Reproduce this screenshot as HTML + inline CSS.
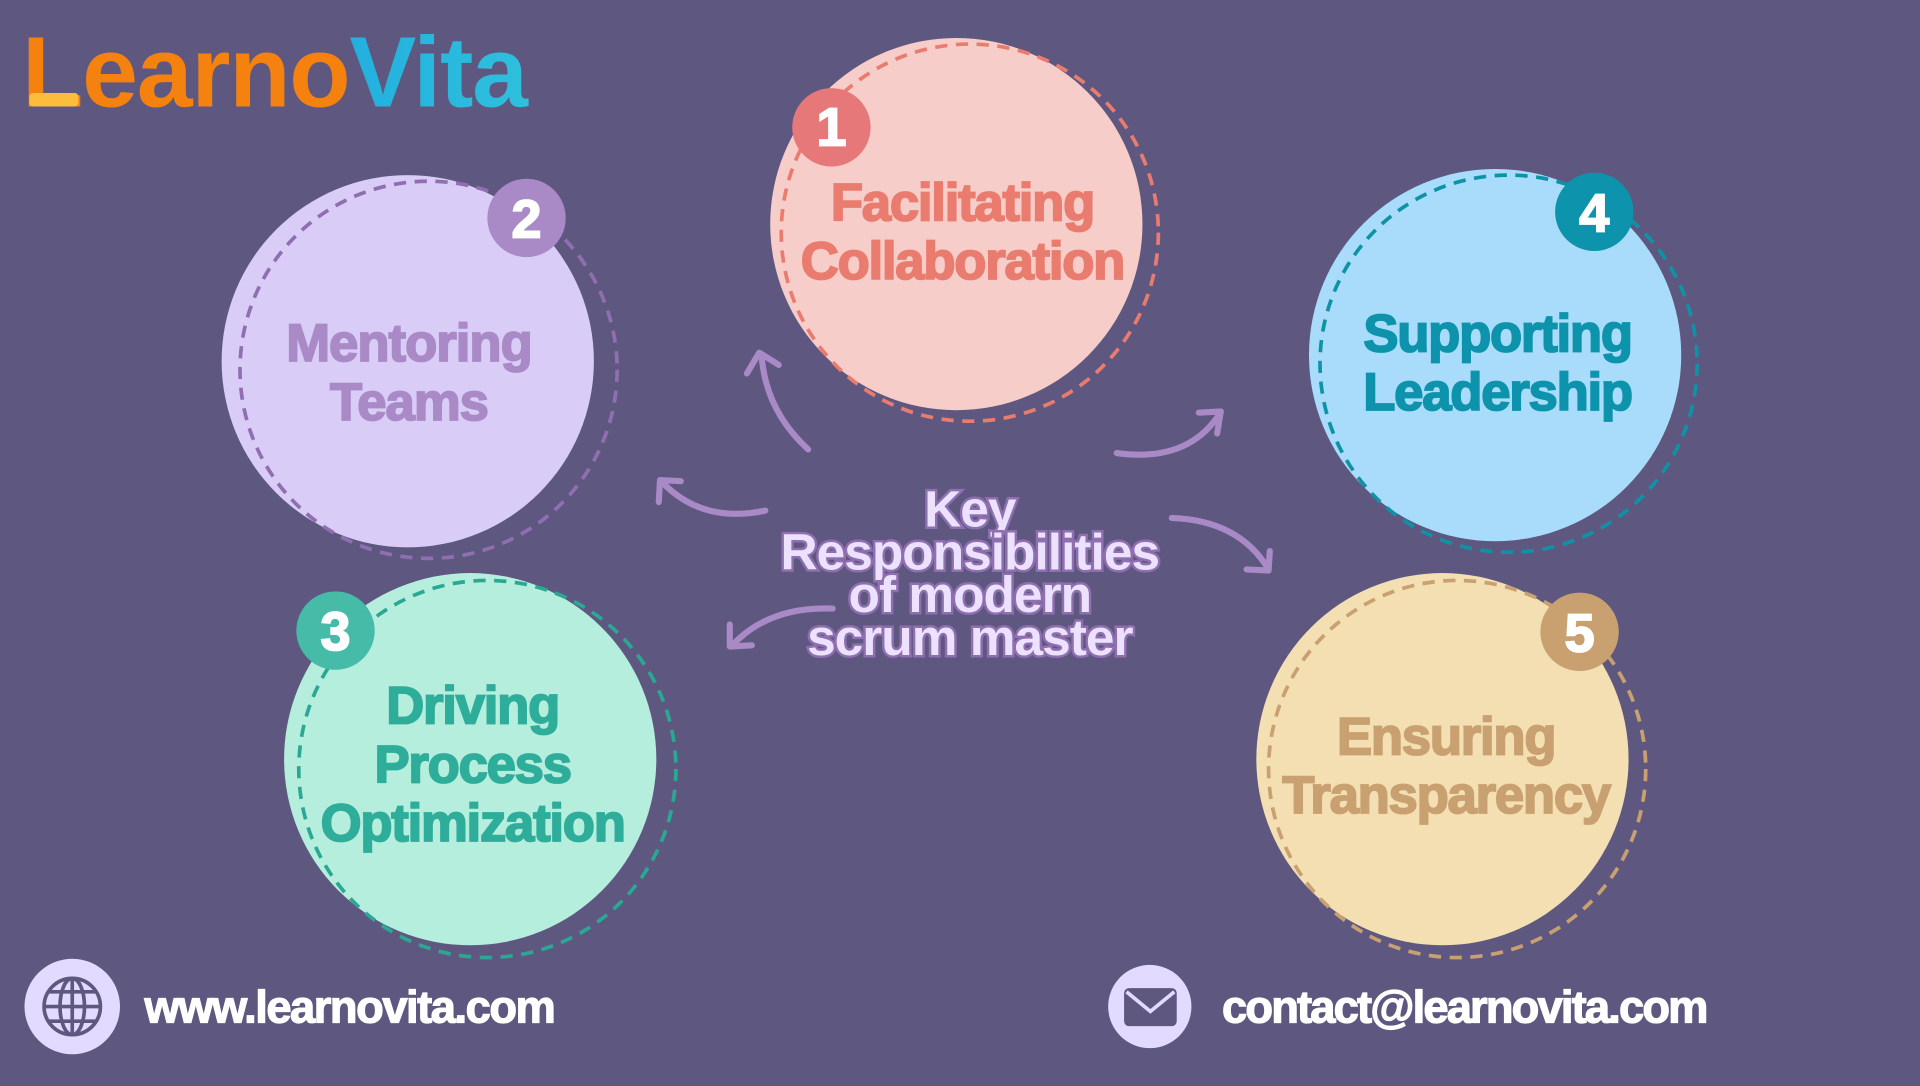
<!DOCTYPE html>
<html><head><meta charset="utf-8">
<style>
html,body{margin:0;padding:0;width:1920px;height:1080px;overflow:hidden;background:#5e5880;}
#w{position:absolute;left:0;top:0;width:1568px;height:882px;transform:scale(1.22449);transform-origin:0 0;}
svg text{font-family:"Liberation Sans",sans-serif;font-weight:bold;}
</style></head><body>
<div id="w">
<svg width="1568" height="882" viewBox="0 0 1568 882" xmlns="http://www.w3.org/2000/svg">
<rect width="1568" height="882" fill="#5e5880"/>
<defs>
<linearGradient id="vg" x1="0" x2="1"><stop offset="0" stop-color="#0a92e0"/><stop offset="1" stop-color="#2fc0dd"/></linearGradient>
</defs>
<!-- logo -->
<text x="18" y="87" font-size="82" letter-spacing="-1"><tspan fill="#f5820f">Learno</tspan><tspan fill="url(#vg)">Vita</tspan></text>
<rect x="24" y="76" width="40" height="11" rx="3" fill="#fdbd3c"/>

<!-- circle 1 -->
<circle cx="781" cy="183" r="152" fill="#f6cdc9"/>
<circle cx="792" cy="190" r="154" fill="none" stroke="#ea7c6f" stroke-width="3" stroke-dasharray="10 7"/>
<circle cx="679" cy="104" r="32" fill="#e7787a"/>
<text x="679" y="119" font-size="44" fill="#fff" text-anchor="middle" stroke="#fff" stroke-width="1.5">1</text>
<g font-size="43" fill="#ea7c6f" stroke="#ea7c6f" stroke-width="1.5" text-anchor="middle" letter-spacing="-1">
<text x="786" y="180">Facilitating</text>
<text x="786" y="228">Collaboration</text>
</g>

<!-- circle 2 -->
<circle cx="333" cy="295" r="152" fill="#d9cdf7"/>
<circle cx="350" cy="302" r="154" fill="none" stroke="#8f6fb0" stroke-width="3" stroke-dasharray="10 7"/>
<circle cx="430" cy="178" r="32" fill="#a98ac7"/>
<text x="430" y="194" font-size="44" fill="#fff" text-anchor="middle" stroke="#fff" stroke-width="1.5">2</text>
<g font-size="43" fill="#a98ac7" stroke="#a98ac7" stroke-width="1.5" text-anchor="middle" letter-spacing="-0.8">
<text x="334" y="295">Mentoring</text>
<text x="334" y="343">Teams</text>
</g>

<!-- circle 4 -->
<circle cx="1221" cy="290" r="152" fill="#a9dcfb"/>
<circle cx="1232" cy="297" r="154" fill="none" stroke="#0e93a6" stroke-width="3" stroke-dasharray="10 7"/>
<circle cx="1302" cy="173" r="32" fill="#0d93ab"/>
<text x="1302" y="189" font-size="44" fill="#fff" text-anchor="middle" stroke="#fff" stroke-width="1.5">4</text>
<g font-size="43" fill="#0d93ab" stroke="#0d93ab" stroke-width="1.5" text-anchor="middle" letter-spacing="-1">
<text x="1223" y="287">Supporting</text>
<text x="1223" y="335">Leadership</text>
</g>

<!-- circle 3 -->
<circle cx="384" cy="620" r="152" fill="#b6eedd"/>
<circle cx="398" cy="628" r="154" fill="none" stroke="#2aa894" stroke-width="3" stroke-dasharray="10 7"/>
<circle cx="274" cy="515" r="32" fill="#45bba8"/>
<text x="274" y="531" font-size="44" fill="#fff" text-anchor="middle" stroke="#fff" stroke-width="1.5">3</text>
<g font-size="43" fill="#2ead9b" stroke="#2ead9b" stroke-width="1.5" text-anchor="middle" letter-spacing="-1">
<text x="386" y="591">Driving</text>
<text x="386" y="639">Process</text>
<text x="386" y="687">Optimization</text>
</g>

<!-- circle 5 -->
<circle cx="1178" cy="620" r="152" fill="#f3dfb2"/>
<circle cx="1190" cy="628" r="154" fill="none" stroke="#c9a070" stroke-width="3" stroke-dasharray="10 7"/>
<circle cx="1290" cy="516" r="32" fill="#c9a070"/>
<text x="1290" y="532" font-size="44" fill="#fff" text-anchor="middle" stroke="#fff" stroke-width="1.5">5</text>
<g font-size="43" fill="#c9a070" stroke="#c9a070" stroke-width="1.5" text-anchor="middle" letter-spacing="-1">
<text x="1181" y="616">Ensuring</text>
<text x="1181" y="664">Transparency</text>
</g>

<!-- arrows -->
<g fill="none" stroke="#a98ac7" stroke-width="5" stroke-linecap="round" stroke-linejoin="round">
<path d="M660 367 Q625 335 622 290"/><path d="M610 305 L620 288 L636 298"/>
<path d="M625 417 Q573 428 540 393"/><path d="M538 410 L539 392 L556 393"/>
<path d="M912 370 Q970 378 996 338"/><path d="M979 337 L997 336 L994 354"/>
<path d="M957 423 Q1012 425 1036 465"/><path d="M1018 465 L1036 466 L1037 450"/>
<path d="M680 497 Q628 495 598 527"/><path d="M596 510 L596 528 L614 527"/>
</g>

<!-- center text -->
<g font-size="42" fill="#ece2ff" stroke="#8f6fb0" stroke-width="4" paint-order="stroke" text-anchor="middle" letter-spacing="-0.8">
<text x="792" y="430">Key</text>
<text x="792" y="465">Responsibilities</text>
<text x="792" y="500">of modern</text>
<text x="792" y="535">scrum master</text>
</g>

<!-- footer -->
<circle cx="59" cy="822" r="39" fill="#e2dbff"/>
<g fill="none" stroke="#5e5880" stroke-width="3">
<circle cx="59" cy="822" r="23"/>
<ellipse cx="59" cy="822" rx="10" ry="23"/>
<line x1="59" y1="799" x2="59" y2="845"/>
<line x1="36" y1="822" x2="82" y2="822"/>
<line x1="40" y1="810" x2="78" y2="810"/>
<line x1="40" y1="834" x2="78" y2="834"/>
</g>
<text x="118" y="835" font-size="37" fill="#fff" stroke="#fff" stroke-width="1" letter-spacing="-1.2">www.learnovita.com</text>

<circle cx="939" cy="822" r="34" fill="#e2dbff"/>
<rect x="918" y="807" width="43" height="31" rx="4" fill="#5e5880"/>
<path d="M920 810 L939.5 826 L959 810" fill="none" stroke="#e2dbff" stroke-width="3"/>
<text x="998" y="835" font-size="37" fill="#fff" stroke="#fff" stroke-width="1" letter-spacing="-1.5">contact@learnovita.com</text>
</svg>
</div>
</body></html>
